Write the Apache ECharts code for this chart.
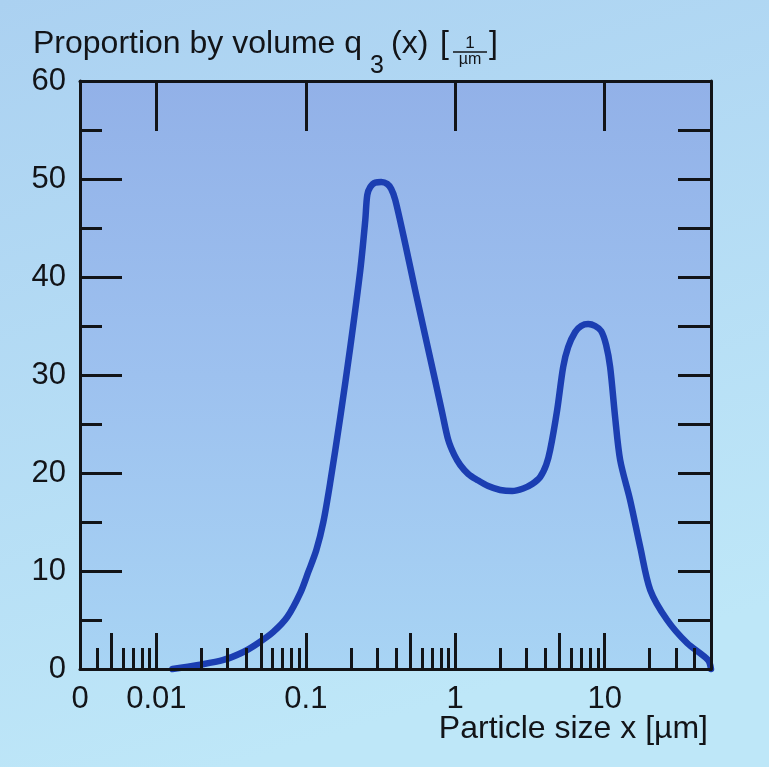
<!DOCTYPE html>
<html>
<head>
<meta charset="utf-8">
<script src="https://cdn.jsdelivr.net/npm/echarts@6/dist/echarts.min.js"></script>
<style>
html,body{margin:0;padding:0;background:#b3dbf4;}
#chart{width:769px;height:767px;}
</style>
</head>
<body>
<div id="chart"></div>
<script>
// ---- data ----
const sizes = [0.0128, 0.0191, 0.0281, 0.0382, 0.0481, 0.0606, 0.0752, 0.0919, 0.1039, 0.1176, 0.1310, 0.1458, 0.1701, 0.1984, 0.2315, 0.2500,
               0.2578, 0.2700, 0.2916, 0.3199, 0.3509, 0.3731, 0.397, 0.463, 0.540, 0.630, 0.735, 0.8185, 0.898, 0.985, 1.080, 1.222, 1.404, 1.662,
               2.0, 2.406, 2.850, 3.274, 3.704, 4.062, 4.319, 4.811, 5.278, 5.700, 6.349, 6.963, 7.756, 8.641, 9.476, 10.23, 10.88,
               11.75, 12.70, 14.8, 17.3, 20.2, 26.2, 35.6, 49.2, 51.5];
const q3 =    [0,      0.41,   0.92,   1.73,   2.65,   3.78,   5.31,   7.76,   9.90,   12.14,  15.0,   19.08,  25.71,  32.86,  40.71,  45.8,
               48.37,  49.18,  49.64,  49.69,  49.49,  48.98,  47.86, 43.37, 38.61, 33.98, 29.39, 26.12,  23.37, 21.84, 20.82, 19.90, 19.29, 18.67,
               18.27, 18.16, 18.42, 18.88, 19.59, 20.82, 22.35, 26.43, 30.82, 32.86, 34.39, 35.0,  35.2,  35.0,  34.49, 33.06, 30.82,
               25.71, 21.33, 17.24, 12.45, 8.06, 5.0,  2.65, 0.92, 0];

const X_MIN = 0.00308, X_MAX = 51.5;
const xLabelValues = [X_MIN, 0.01, 0.1, 1, 10];
const xLongTicks  = [0.005, 0.01, 0.05, 0.1, 0.5, 1, 5, 10];
const xShortTicks = [0.004, 0.006, 0.007, 0.008, 0.009, 0.02, 0.03, 0.04, 0.06, 0.07, 0.08, 0.09,
                     0.2, 0.3, 0.4, 0.6, 0.7, 0.8, 0.9, 2, 3, 4, 6, 7, 8, 9, 20, 30, 40];
const xTopTicks   = [0.01, 0.1, 1, 10];
const yLabelValues = [0, 10, 20, 30, 40, 50, 60];
const yHalfTicks  = [5, 15, 25, 35, 45, 55];
const yAllTicks   = [5, 10, 15, 20, 25, 30, 35, 40, 45, 50, 55];

const FONT = '"Liberation Sans", Arial, sans-serif';
const INK = '#121418';

const chart = echarts.init(document.getElementById('chart'), null, {renderer: 'canvas'});

function xAx(extra) {
  return Object.assign({
    type: 'log', logBase: 10, min: X_MIN, max: X_MAX, gridIndex: 0, z: 5,
    splitLine: {show: false},
    axisLine: {show: false},
    axisLabel: {show: false},
    axisTick: {show: false}
  }, extra);
}
function yAx(extra) {
  return Object.assign({
    type: 'value', min: 0, max: 60, gridIndex: 0, z: 5,
    splitLine: {show: false},
    axisLine: {show: false},
    axisLabel: {show: false},
    axisTick: {show: false}
  }, extra);
}

const option = {
  animation: false,
  backgroundColor: {
    type: 'linear', x: 0, y: 0, x2: 0.3, y2: 1,
    colorStops: [{offset: 0, color: '#abd1f1'}, {offset: 1, color: '#bee7f8'}]
  },
  grid: {
    left: 80, right: 58, top: 81, bottom: 98,
    show: true, borderWidth: 0,
    backgroundColor: {
      type: 'linear', x: 0, y: 0, x2: 0, y2: 1,
      colorStops: [{offset: 0, color: '#92b1e8'}, {offset: 0.5, color: '#9dc1ef'}, {offset: 1, color: '#a8d4f4'}]
    }
  },
  xAxis: [
    xAx({
      position: 'bottom',
      axisLine: {show: true, onZero: false, lineStyle: {color: INK, width: 3}},
      axisTick: {show: true, inside: true, length: 36, customValues: xLongTicks, lineStyle: {color: INK, width: 3}},
      axisLabel: {
        show: true, customValues: xLabelValues, margin: 15,
        color: INK, fontSize: 31, fontFamily: FONT,
        formatter: v => (v < 0.005 ? '0' : String(+Number(v).toPrecision(3)))
      }
    }),
    xAx({
      position: 'bottom',
      axisTick: {show: true, inside: true, length: 21, customValues: xShortTicks, lineStyle: {color: INK, width: 3}}
    }),
    xAx({
      position: 'top',
      axisLine: {show: true, onZero: false, lineStyle: {color: INK, width: 3}},
      axisTick: {show: true, inside: true, length: 50, customValues: xTopTicks, lineStyle: {color: INK, width: 3}}
    })
  ],
  yAxis: [
    yAx({
      position: 'left', interval: 10,
      axisLine: {show: true, onZero: false, lineStyle: {color: INK, width: 3}},
      axisTick: {show: true, inside: true, length: 42, lineStyle: {color: INK, width: 3}},
      axisLabel: {show: true, customValues: yLabelValues, margin: 14, color: INK, fontSize: 31, fontFamily: FONT}
    }),
    yAx({
      position: 'left',
      axisTick: {show: true, inside: true, length: 22, customValues: yHalfTicks, lineStyle: {color: INK, width: 3}}
    }),
    yAx({
      position: 'right',
      axisLine: {show: true, onZero: false, lineStyle: {color: INK, width: 3}},
      axisTick: {show: true, inside: true, length: 33, customValues: yAllTicks, lineStyle: {color: INK, width: 3}}
    })
  ],
  series: [{
    type: 'line',
    xAxisIndex: 0, yAxisIndex: 0,
    data: sizes.map((s, i) => [s, q3[i]]),
    showSymbol: false, symbol: 'none',
    smooth: 0.3,
    clip: false,
    z: 2,
    lineStyle: {color: '#1b3eb2', width: 6.5, cap: 'round', join: 'round'}
  }],
  graphic: [
    {type: 'text', x: 33, y: 44, style: {text: 'Proportion by volume q', font: '32px ' + FONT, fill: INK, align: 'left', verticalAlign: 'middle'}},
    {type: 'text', x: 370, y: 66, style: {text: '3', font: '25px ' + FONT, fill: INK, align: 'left', verticalAlign: 'middle'}},
    {type: 'text', x: 391, y: 44, style: {text: '(x)', font: '32px ' + FONT, fill: INK, align: 'left', verticalAlign: 'middle'}},
    {type: 'text', x: 440, y: 44, style: {text: '[', font: '32px ' + FONT, fill: INK, align: 'left', verticalAlign: 'middle'}},
    {type: 'text', x: 470, y: 43, style: {text: '1', font: '17px ' + FONT, fill: INK, align: 'center', verticalAlign: 'middle'}},
    {type: 'line', shape: {x1: 453, y1: 52, x2: 487, y2: 52}, style: {stroke: INK, lineWidth: 1.5}},
    {type: 'text', x: 470, y: 60, style: {text: 'µm', font: '16px ' + FONT, fill: INK, align: 'center', verticalAlign: 'middle'}},
    {type: 'text', x: 489, y: 44, style: {text: ']', font: '32px ' + FONT, fill: INK, align: 'left', verticalAlign: 'middle'}},
    {type: 'text', x: 708, y: 729, style: {text: 'Particle size x [µm]', font: '32px ' + FONT, fill: INK, align: 'right', verticalAlign: 'middle'}}
  ]
};
chart.setOption(option);
</script>
</body>
</html>
